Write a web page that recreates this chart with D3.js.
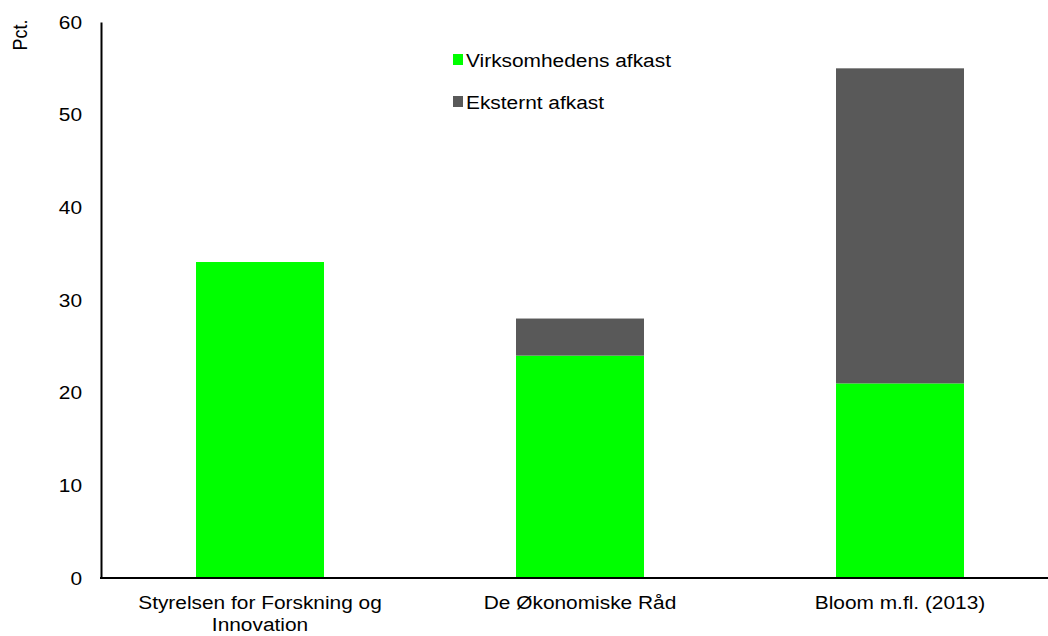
<!DOCTYPE html>
<html lang="en">
<head>
<meta charset="UTF-8">
<title>Afkast</title>
<style>
	*{margin:0;padding:0;}
	body{background:#fff;}
	text{font-family:"Liberation Sans",Arial,sans-serif;fill:#000;font-size:18px;}
</style>
</head>
<body>
<div id="container"></div>
<script src="https://cdn.jsdelivr.net/npm/d3@7"></script>
<script>
var categories = [["Styrelsen for Forskning og", "Innovation"], ["De Økonomiske Råd"], ["Bloom m.fl. (2013)"]]
var intern = [34.1, 24, 21]
var ekstern = [0, 4, 34]
var seriesNames = ["Virksomhedens afkast", "Eksternt afkast"]
var colors = ["#00ff00", "#595959"]
var yTicks = [0, 10, 20, 30, 40, 50, 60]

var W = 1048, H = 636
var sx = 1.16 // text in the original is a little stretched sideways
var svg = d3.select('#container').append('svg').attr('width', W).attr('height', H)

var x = d3.scaleBand().domain(d3.range(categories.length)).range([100, 1060]).paddingInner(0.6).paddingOuter(0.3)
var y = d3.scaleLinear().domain([0, 60]).range([578, 22])

// put a stretched text at (px, py)
function label(px, py, txt, anchor) {
	return svg.append('text')
		.attr('transform', 'translate(' + px + ',' + py + ') scale(' + sx + ',1)')
		.attr('text-anchor', anchor || 'start')
		.text(txt)
}

var rows = categories.map(function (c, i) { return {i: i, a: intern[i], b: ekstern[i]} })
var stack = d3.stack().keys(['a', 'b'])(rows)

svg.selectAll('g.layer')
	.data(stack)
	.enter().append('g')
	.attr('fill', function (d, k) { return colors[k] })
	.selectAll('rect')
	.data(function (d) { return d })
	.enter().append('rect')
	.attr('x', function (d) { return x(d.data.i) })
	.attr('width', x.bandwidth())
	.attr('y', function (d) { return y(d[1]) })
	.attr('height', function (d) { return y(d[0]) - y(d[1]) })

// axes
var yAxis = svg.append('g').attr('transform', 'translate(101,0)')
	.call(d3.axisLeft(y).tickValues(yTicks).tickSize(0))
yAxis.select('.domain').attr('stroke', '#000').attr('stroke-width', 2)
yAxis.selectAll('.tick text').remove()
yTicks.forEach(function (v) {
	label(82, y(v) + 6.5, v, 'end')
})

svg.append('line').attr('x1', 100).attr('x2', W).attr('y1', y(0)).attr('y2', y(0))
	.attr('stroke', '#000').attr('stroke-width', 2)

categories.forEach(function (lines, i) {
	lines.forEach(function (l, j) {
		label(x(i) + x.bandwidth() / 2, 609 + j * 22, l, 'middle')
	})
})

svg.append('text').attr('transform', 'translate(27,35) rotate(-90) scale(1,' + sx + ')')
	.attr('text-anchor', 'middle').text('Pct.')

// legend
seriesNames.forEach(function (name, i) {
	svg.append('rect').attr('x', 453).attr('y', 54 + i * 42).attr('width', 10).attr('height', 11)
		.attr('fill', colors[i])
	label(466, 67 + i * 42, name)
})
</script>
</body>
</html>
